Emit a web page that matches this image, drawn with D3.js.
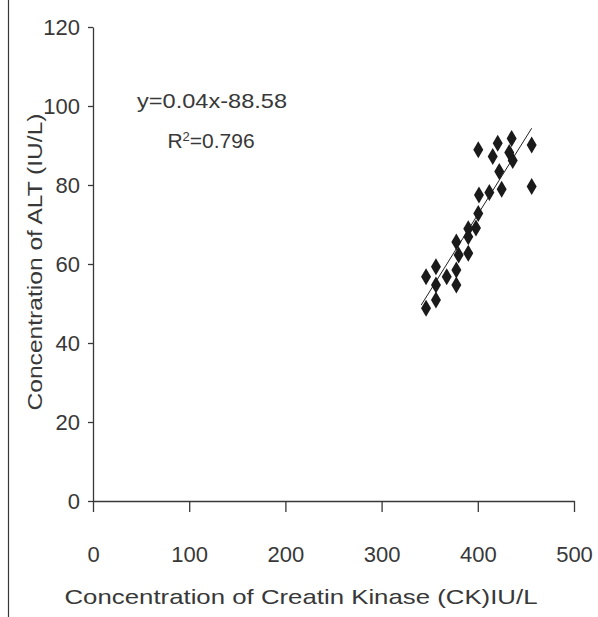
<!DOCTYPE html>
<html>
<head>
<meta charset="utf-8">
<script src="https://cdn.jsdelivr.net/npm/d3@7"></script>
<style>
  body { margin: 0; background: #fff; }
  svg { display: block; font-family: "Liberation Sans", Arial, sans-serif; }
</style>
</head>
<body>
<script>
// CK (x) and ALT (y) readings
const ckValues = [
  400.5, 420.7, 415.5, 435.2, 432.7, 436.3, 456.0, 456.0, 422.3, 424.8,
  412.0, 401.2, 400.5, 398.1, 390.1, 390.1, 390.1, 377.7, 380.1, 377.7,
  377.7, 367.7, 356.5, 356.5, 356.5, 346.2, 346.2,
];
const altValues = [
  88.9, 90.6, 87.2, 91.8, 88.2, 86.2, 90.1, 79.6, 83.4, 78.9,
  78.1, 77.5, 72.8, 69.1, 68.9, 66.9, 62.7, 65.6, 62.3, 58.5,
  54.7, 56.8, 59.3, 54.7, 50.9, 56.8, 48.8,
];
const xTicks = [0, 100, 200, 300, 400, 500];
const yTicks = [0, 20, 40, 60, 80, 100, 120];
const equationText = "y=0.04x-88.58";
const rSquaredValue = "0.796";
const xTitle = "Concentration of Creatin Kinase (CK)IU/L";
const yTitle = "Concentration of ALT (IU/L)";

const width = 598;
const height = 617;
const plot = { left: 93, right: 574, top: 27, bottom: 501 };
const ink = "#383838";

const points = ckValues.map((x, i) => ({ x, y: altValues[i] }));

const svg = d3
  .select("body")
  .append("svg")
  .attr("width", width)
  .attr("height", height);

const xScale = d3.scaleLinear().domain([0, 500]).range([plot.left, plot.right]);
const yScale = d3.scaleLinear().domain([0, 120]).range([plot.bottom, plot.top]);

// frame line on the left edge
svg
  .append("line")
  .attr("x1", 8.5)
  .attr("x2", 8.5)
  .attr("y1", 0)
  .attr("y2", height)
  .attr("stroke", ink)
  .attr("stroke-width", 1.2);

drawAxes();
drawTrend();
drawPoints();
drawLabels();

// Axes ////////////////////////////////////////////////////////////////////

function drawAxes() {
  const xAxis = svg
    .append("g")
    .attr("transform", `translate(0, ${plot.bottom})`)
    .call(
      d3.axisBottom(xScale).tickValues(xTicks).tickSize(11).tickPadding(34).tickSizeOuter(0)
    );

  const yAxis = svg
    .append("g")
    .attr("transform", `translate(${plot.left}, 0)`)
    .call(
      d3.axisLeft(yScale).tickValues(yTicks).tickSize(5).tickPadding(8).tickSizeOuter(0)
    );

  [xAxis, yAxis].forEach((g) => {
    g.select(".domain").attr("stroke", ink).attr("stroke-width", 1.3);
    g.selectAll(".tick line").attr("stroke", ink).attr("stroke-width", 1.3);
    g.selectAll(".tick text")
      .attr("fill", ink)
      .style("font-size", "22px")
      .style("font-family", '"Liberation Sans", Arial, sans-serif');
  });
}

// Marks ///////////////////////////////////////////////////////////////////

function drawTrend() {
  const mx = d3.mean(points, (d) => d.x);
  const my = d3.mean(points, (d) => d.y);
  const sxy = d3.sum(points, (d) => (d.x - mx) * (d.y - my));
  const sxx = d3.sum(points, (d) => (d.x - mx) ** 2);
  const slope = sxy / sxx;
  const intercept = my - slope * mx;
  const [x0, x1] = d3.extent(points, (d) => d.x);
  const ends = [x0 - 5, x1].map((x) => ({ x, y: slope * x + intercept }));

  svg
    .append("path")
    .datum(ends)
    .attr("fill", "none")
    .attr("stroke", "#222")
    .attr("stroke-width", 1)
    .attr(
      "d",
      d3
        .line()
        .x((d) => xScale(d.x))
        .y((d) => yScale(d.y))
    );
}

function drawPoints() {
  const hw = 5;
  const hh = 8.5;
  svg
    .append("g")
    .selectAll("path")
    .data(points)
    .join("path")
    .attr("transform", (d) => `translate(${xScale(d.x)}, ${yScale(d.y)})`)
    .attr("d", `M0,${-hh}L${hw},0L0,${hh}L${-hw},0Z`)
    .attr("fill", "#1a1a1a");
}

// Text ////////////////////////////////////////////////////////////////////

function drawLabels() {
  svg
    .append("text")
    .text(equationText)
    .attr("x", 212)
    .attr("y", 108)
    .attr("text-anchor", "middle")
    .attr("fill", ink)
    .style("font-size", "21px")
    .attr("textLength", 150)
    .attr("lengthAdjust", "spacingAndGlyphs");

  const r2 = svg
    .append("text")
    .attr("x", 211)
    .attr("y", 148)
    .attr("text-anchor", "middle")
    .attr("fill", ink)
    .style("font-size", "21px");
  r2.append("tspan").text("R");
  r2.append("tspan").text("2").attr("dy", -7).style("font-size", "13px");
  r2.append("tspan").text("=" + rSquaredValue).attr("dy", 7);

  svg
    .append("text")
    .text(xTitle)
    .attr("x", 301)
    .attr("y", 604)
    .attr("text-anchor", "middle")
    .attr("fill", ink)
    .style("font-size", "21px")
    .attr("textLength", 473)
    .attr("lengthAdjust", "spacingAndGlyphs");

  svg
    .append("text")
    .text(yTitle)
    .attr("transform", "translate(42, 262) rotate(-90)")
    .attr("text-anchor", "middle")
    .attr("fill", ink)
    .style("font-size", "21px")
    .attr("textLength", 297)
    .attr("lengthAdjust", "spacingAndGlyphs");
}
</script>
</body>
</html>
